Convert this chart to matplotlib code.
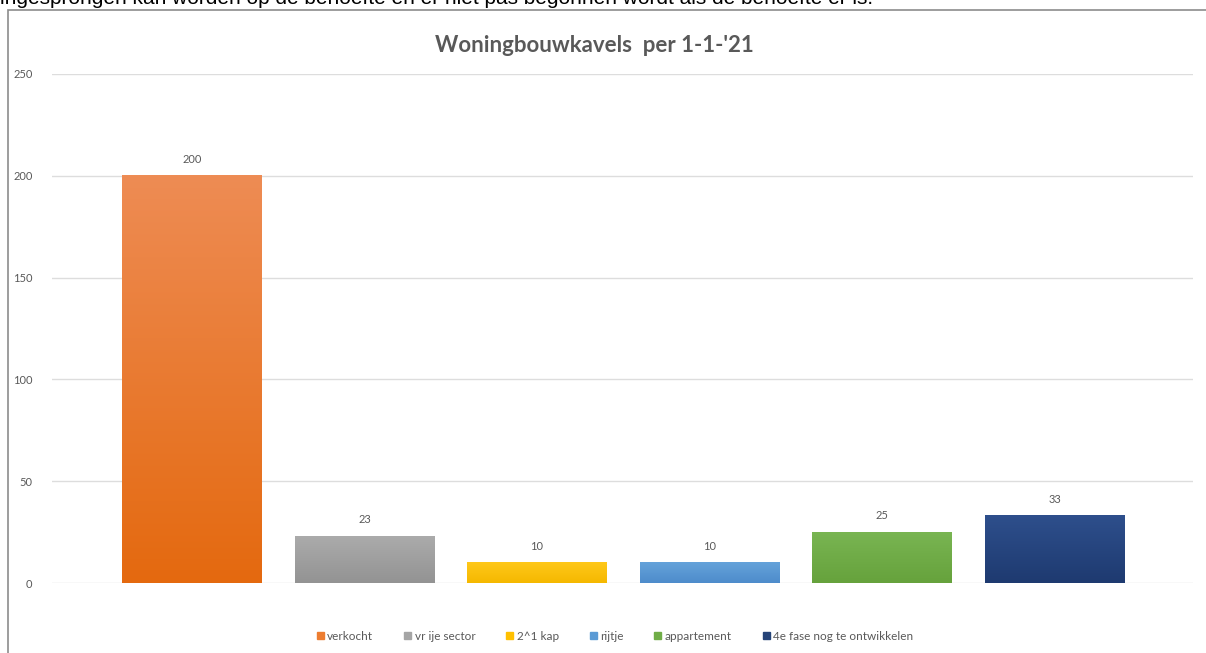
import matplotlib.pyplot as plt
from matplotlib.patches import Rectangle
from matplotlib.colors import LinearSegmentedColormap
import numpy as np

categories = ['verkocht', 'vr ije sector', '2^1 kap', 'rijtje', 'appartement', '4e fase nog te ontwikkelen']
values = [200, 23, 10, 10, 25, 33]
# (top colour, bottom colour) for the gradient fill of each bar
bar_colors = [('#EE8C54', '#E4690F'), ('#ABABAB', '#939393'), ('#FFC81A', '#F5B800'),
              ('#64A2DA', '#4E8CCB'), ('#79B552', '#66A23C'), ('#2E4F8C', '#1E3A70')]
legend_colors = ['#ED7D31', '#A5A5A5', '#FFC000', '#5B9BD5', '#70AD47', '#264478']
title = "Woningbouwkavels  per 1-1-'21"
top_text = "ingesprongen kan worden op de behoefte en er niet pas begonnen wordt als de behoefte er is."

plt.rcParams['font.family'] = ['Lato', 'DejaVu Sans']

fig = plt.figure(figsize=(12.06, 6.53), dpi=100)
fig.patch.set_facecolor('white')

# cut-off line of text from the document above the chart
fig.text(0.0, 1.003, top_text, fontsize=15, color='black', ha='left', va='center',
         family=['Liberation Sans', 'DejaVu Sans'])
# chart frame
fig.patches.append(Rectangle((8 / 1206, -0.01), 1.0, (653 - 10) / 653 + 0.01,
                             transform=fig.transFigure, fill=False,
                             edgecolor='#8C8C8C', lw=1.2))

ax = fig.add_axes([52 / 1206, 70 / 653, (1193 - 52) / 1206, (583 - 74) / 653])
x = np.arange(len(categories))
width = 0.81

for xi, v, (c_top, c_bot) in zip(x, values, bar_colors):
    cmap = LinearSegmentedColormap.from_list('g', [c_bot, c_top])
    grad = np.linspace(0, 1, 256).reshape(-1, 1)
    ax.imshow(grad, cmap=cmap, origin='lower', aspect='auto', zorder=2,
              extent=[xi - width / 2, xi + width / 2, 0, v])
    ax.annotate(str(v), (xi, v), xytext=(0, 8), textcoords='offset points',
                ha='center', va='bottom', fontsize=8, color='#595959')

ax.set_xlim(-0.81, 5.8)
ax.set_ylim(0, 250)
ax.set_yticks([0, 50, 100, 150, 200, 250])
ax.set_xticks([])
ax.grid(axis='y', color='#DDDDDD', lw=1, zorder=0)
ax.set_axisbelow(True)
for s in ax.spines.values():
    s.set_visible(False)
ax.tick_params(axis='y', length=0, pad=14, labelsize=8, labelcolor='#595959')

fig.text(0.493, 1 - 46 / 653, title, ha='center', va='center', fontsize=16,
         fontweight='bold', color='#595959')

handles = [Rectangle((0, 0), 1, 1, color=c) for c in legend_colors]
fig.legend(handles, categories, loc='center', bbox_to_anchor=(0.51, 0.026), ncol=6,
           frameon=False, fontsize=8.5, labelcolor='#595959', handlelength=0.6,
           handleheight=0.6, handletextpad=0.3, columnspacing=2.6)

fig.savefig('out.png', dpi=100)
